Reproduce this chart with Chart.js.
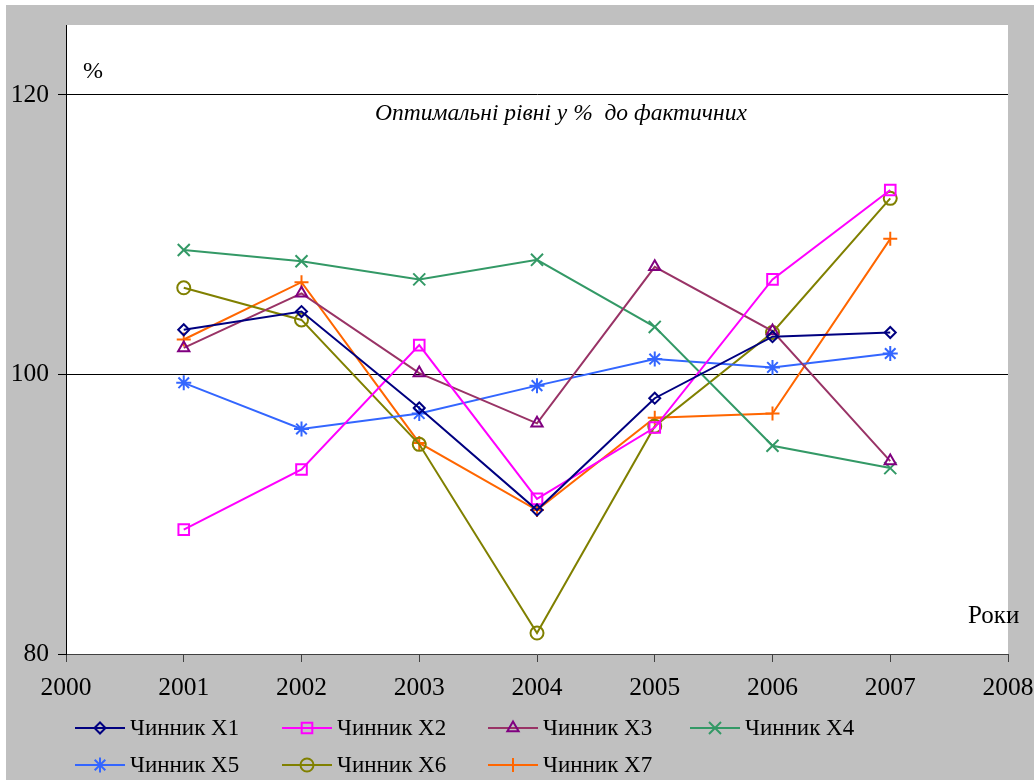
<!DOCTYPE html>
<html>
<head>
<meta charset="utf-8">
<script src="https://cdn.jsdelivr.net/npm/chart.js@4/dist/chart.umd.min.js"></script>
<style>
  html, body { margin: 0; padding: 0; background: #fff; }
  canvas { display: block; }
</style>
</head>
<body>
<canvas id="chart" width="1034" height="780"></canvas>
<script>
// роки та значення чинників (% до фактичних)
const years = [2001, 2002, 2003, 2004, 2005, 2006, 2007];
const xTicks = [2000, 2001, 2002, 2003, 2004, 2005, 2006, 2007, 2008];
const yTicks = [80, 100, 120];

const x1 = [103.2, 104.5, 97.6, 90.3, 98.3, 102.7, 103.0];
const x2 = [88.9, 93.2, 102.1, 91.1, 96.2, 106.8, 113.2];
const x3 = [101.9, 105.8, 100.1, 96.5, 107.7, 103.1, 93.8];
const x4 = [108.9, 108.1, 106.8, 108.2, 103.4, 94.9, 93.3];
const x5 = [99.4, 96.1, 97.2, 99.2, 101.1, 100.5, 101.5];
const x6 = [106.2, 103.9, 95.0, 81.5, 96.3, 103.0, 112.6];
const x7 = [102.5, 106.6, 95.1, 90.3, 96.9, 97.2, 109.7];

const seriesNames = ['Чинник X1', 'Чинник X2', 'Чинник X3', 'Чинник X4', 'Чинник X5', 'Чинник X6', 'Чинник X7'];
const seriesValues = [x1, x2, x3, x4, x5, x6, x7];

const styles = [
    { line: '#000080', mark: '#000080', shape: 'rectRot', r: 5.5 },
    { line: '#FF00FF', mark: '#FF00FF', shape: 'rect', r: 7.5 },
    { line: '#993366', mark: '#800080', shape: 'triangle', r: 6.5 },
    { line: '#339966', mark: '#339966', shape: 'crossRot', r: 8.5 },
    { line: '#3366FF', mark: '#3366FF', shape: 'star', r: 7.5 },
    { line: '#808000', mark: '#808000', shape: 'circle', r: 6.5 },
    { line: '#FF6600', mark: '#FF6600', shape: 'cross', r: 7 }
];

const FONT = '"Liberation Serif", "Times New Roman", serif';

const datasets = seriesValues.map(function (vals, i) {
    const s = styles[i];
    return {
        label: seriesNames[i],
        data: years.map(function (y, k) { return { x: y, y: vals[k] }; }),
        borderColor: s.line,
        borderWidth: 2,
        pointStyle: s.shape,
        pointRadius: s.r,
        pointBorderColor: s.mark,
        pointBorderWidth: 2,
        pointBackgroundColor: 'transparent',
        fill: false,
        tension: 0
    };
});

// фон, білі поля та підписи
const decor = {
    id: 'decor',
    beforeDraw: function (chart) {
        const ctx = chart.ctx;
        const a = chart.chartArea;
        ctx.save();
        ctx.fillStyle = '#fff';
        ctx.fillRect(0, 0, chart.width, chart.height);
        ctx.fillStyle = '#C0C0C0';
        ctx.fillRect(6, 5, chart.width - 6, chart.height - 5);
        ctx.fillStyle = '#fff';
        ctx.fillRect(a.left, a.top, a.right - a.left, a.bottom - a.top);
        ctx.restore();
    },
    afterDraw: function (chart) {
        const ctx = chart.ctx;
        ctx.save();
        ctx.fillStyle = '#000';
        ctx.textBaseline = 'middle';
        ctx.font = '24px ' + FONT;
        ctx.textAlign = 'left';
        ctx.fillText('%', 83, 72);
        ctx.font = '25px ' + FONT;
        ctx.fillText('Роки', 968, 616);
        ctx.font = 'italic 23.5px ' + FONT;
        ctx.textAlign = 'center';
        ctx.fillText('Оптимальні рівні у %  до фактичних', 561, 114);

        // легенда
        ctx.font = '23px ' + FONT;
        ctx.textAlign = 'left';
        const cols = [75, 282, 488, 690];
        const rows = [728, 765];
        chart.data.datasets.forEach(function (ds, i) {
            const s = styles[i];
            const x0 = cols[i % 4];
            const y0 = rows[Math.floor(i / 4)];
            ctx.strokeStyle = s.line;
            ctx.lineWidth = 2;
            ctx.beginPath();
            ctx.moveTo(x0, y0);
            ctx.lineTo(x0 + 50, y0);
            ctx.stroke();
            ctx.strokeStyle = s.mark;
            ctx.fillStyle = 'rgba(0,0,0,0)';
            Chart.helpers.drawPoint(ctx, { pointStyle: s.shape, radius: s.r, rotation: 0, borderWidth: 2 }, x0 + 25, y0);
            ctx.fillStyle = '#000';
            ctx.fillText(ds.label, x0 + 55, y0 + 1);
        });
        ctx.restore();
    }
};

new Chart(document.getElementById('chart'), {
    type: 'line',
    data: { datasets: datasets },
    plugins: [decor],
    options: {
        responsive: false,
        animation: false,
        devicePixelRatio: 1,
        layout: { padding: { top: 25, right: 26, left: 0, bottom: 0 } },
        plugins: {
            legend: { display: false },
            tooltip: { enabled: false }
        },
        scales: {
            x: {
                type: 'linear',
                min: 2000,
                max: 2008,
                afterBuildTicks: function (scale) {
                    scale.ticks = xTicks.map(function (v) { return { value: v }; });
                },
                afterFit: function (scale) {
                    scale.height = 126;
                    scale.paddingLeft = 0;
                    scale.paddingRight = 0;
                },
                border: { display: true, color: '#404040', width: 1 },
                grid: { drawOnChartArea: false, drawTicks: true, tickLength: 8, tickColor: '#404040' },
                ticks: {
                    color: '#000',
                    font: { family: FONT, size: 25.5 },
                    padding: 11,
                    maxRotation: 0,
                    callback: function (v) { return String(v); }
                }
            },
            y: {
                min: 80,
                max: 125,
                afterBuildTicks: function (scale) {
                    scale.ticks = yTicks.map(function (v) { return { value: v }; });
                },
                afterFit: function (scale) {
                    scale.width = 66;
                    scale.paddingTop = 0;
                    scale.paddingBottom = 0;
                },
                border: { display: true, color: '#000', width: 1 },
                grid: {
                    drawTicks: true,
                    tickLength: 8,
                    tickColor: '#000',
                    lineWidth: 1,
                    color: function (c) { return c.tick && c.tick.value === 80 ? 'rgba(0,0,0,0)' : '#000'; }
                },
                ticks: {
                    color: '#000',
                    font: { family: FONT, size: 25.5 },
                    padding: 9
                }
            }
        }
    }
});
</script>
</body>
</html>
